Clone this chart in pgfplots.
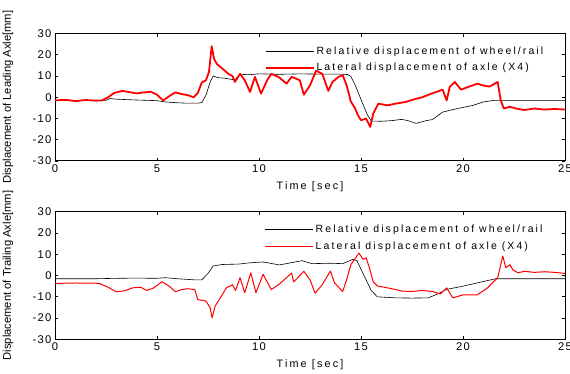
\documentclass[border=0pt]{standalone}
\usepackage{fontspec}
\setmainfont{Liberation Sans}
\newfontfamily\spf[LetterSpace=20]{Liberation Sans}
\newfontfamily\tkf[LetterSpace=12]{Liberation Sans}
\usepackage{pgfplots}
\pgfplotsset{compat=1.18}
\definecolor{myred}{RGB}{255,0,0}
\pgfplotsset{
  myax/.style={
    width=510bp, height=127.5bp, scale only axis,
    xmin=0, xmax=25, ymin=-30, ymax=30,
    xtick={0,5,...,25}, ytick={-30,-20,...,30},
    tick align=inside, major tick length=3bp,
    axis line style={line width=1pt},
    every tick/.style={black, line width=0.8pt},
    /pgf/number format/assume math mode=true,
    tick label style={font=\fontsize{11.2bp}{13bp}\tkf},
    label style={font=\fontsize{11.2bp}{13bp}\selectfont},
    xlabel={{\fontsize{10.8bp}{13bp}\spf Time [sec]}},
    xlabel style={at={(axis description cs:0.5,-0.2)}, anchor=center},
    ylabel style={at={(axis description cs:-0.092,0.5)}, anchor=center},
    legend style={draw=none, fill=none, at={(axis description cs:0.405,0.93)}, anchor=north west,
      font=\fontsize{10.5bp}{12bp}\spf, row sep=3.5bp},
    legend cell align=left,
    legend image code/.code={\draw[#1] (0bp,0bp) -- (48bp,0bp);},
  }
}
\begin{document}
\begin{tikzpicture}
\useasboundingbox (0bp,0bp) rectangle (570bp,374bp);
\begin{axis}[myax, at={(55bp,213bp)}, anchor=south west,
  ylabel={Displacement of Leading Axle[mm]}]
\addplot[black, line width=0.6pt] coordinates {
(0,-1.5) (1,-1.6) (2,-1.5) (2.5,-1.4) (2.7,-0.6) (3,-0.9) (4,-1.3) (5,-1.6) (5.4,-2.2) (6,-2.6) (6.5,-2.8) (7,-2.8) (7.2,-2.5) (7.4,1) (7.6,7) (7.75,10) (8,9.2) (8.3,9) (8.6,8.5) (8.8,8.2) (9.1,10.8) (9.5,10.6) (10,11) (11,10.8) (12,11) (13,10.9) (14,10.9) (14.35,10.7) (14.5,9.8) (14.7,6) (15.0,-1) (15.3,-8) (15.5,-11.2) (16,-11.3) (16.5,-11) (17,-10.4) (17.3,-11) (17.7,-12.3) (18.2,-11) (18.5,-10.5) (18.6,-9.8) (19,-7) (19.5,-5.8) (20,-4.8) (20.5,-3.8) (21,-2.2) (21.5,-1.5) (25,-1.5)
};
\addlegendentry{Relative displacement of wheel/rail}
\addplot[myred, line width=1.8pt, line join=round] coordinates {
(0,-1.5) (0.5,-1.2) (1,-1.8) (1.5,-1.3) (2,-1.6) (2.3,-1.5) (2.6,0) (2.9,2) (3.3,3) (3.6,2.5) (4,1.8) (4.3,2.2) (4.7,2.6) (5.0,1.2) (5.3,-1.5) (5.6,0.5) (5.9,2.3) (6.2,1.5) (6.5,1.0) (6.8,0) (7.0,2) (7.2,7) (7.4,8) (7.55,12) (7.68,24) (7.8,18) (7.95,15.5) (8.2,13.5) (8.5,11) (8.7,10) (8.82,7.2) (9.07,11) (9.3,8) (9.56,2.5) (9.8,9.6) (10.1,1.7) (10.4,8) (10.6,11) (10.95,9.6) (11.35,6.4) (11.6,9.6) (12.0,8) (12.2,1.2) (12.5,5.6) (12.8,12.5) (13.1,11) (13.4,3) (13.6,7.2) (13.9,9.6) (14.1,10.4) (14.3,5.5) (14.5,-2) (14.7,-5) (14.85,-8.5) (15.0,-10.8) (15.25,-10) (15.45,-14) (15.6,-7.7) (15.85,-3) (16.3,-3.8) (16.7,-3) (17.2,-2.2) (17.6,-1) (18,0) (18.4,1.5) (18.7,2.5) (19.0,3.6) (19.2,-1.5) (19.35,4.9) (19.6,7.2) (19.9,3.6) (20.3,5) (20.7,6.4) (21.0,5.5) (21.3,5) (21.7,7.2) (21.85,-1.5) (22.0,-5.3) (22.3,-4.5) (22.6,-5.3) (23,-6) (23.5,-5.3) (24,-5.8) (24.5,-5.5) (25,-5.8)
};
\addlegendentry{Lateral displacement of axle (X4)}
\end{axis}
\begin{axis}[myax, at={(55bp,34.7bp)}, anchor=south west,
  ylabel={Displacement of Trailing Axle[mm]}]
\addplot[black, line width=0.6pt] coordinates {
(0,-1.5) (2,-1.5) (3,-1.3) (4,-1.2) (5,-1.3) (5.4,-1) (6,-1.5) (6.8,-2) (7.2,-2) (7.5,1) (7.75,4.5) (8.2,5.2) (9,5.4) (9.56,6) (10.2,6.4) (11,5) (12.1,7) (12.6,5.6) (13.5,5.8) (14.1,5.6) (14.6,7.6) (14.8,7) (14.9,5) (15.2,-1) (15.5,-7) (15.8,-10) (16.7,-10.5) (17.5,-10.6) (18.3,-10.5) (18.8,-8.5) (19.2,-6.5) (20,-5) (21,-2.8) (21.6,-1.5) (25,-1.5)
};
\addlegendentry{Relative displacement of wheel/rail}
\addplot[myred, line width=1pt, line join=round] coordinates {
(0,-3.7) (1,-3.5) (2,-3.6) (2.2,-3.8) (2.6,-5.5) (3.0,-7.6) (3.4,-7.2) (3.8,-5.8) (4.2,-5.5) (4.5,-7) (4.8,-6) (5.25,-2.9) (5.6,-5) (5.9,-7.6) (6.2,-6.6) (6.5,-6.2) (6.85,-6.6) (7.0,-11.3) (7.4,-12) (7.6,-15) (7.7,-19.9) (7.85,-14.4) (8.1,-10.5) (8.4,-5.8) (8.7,-4.3) (8.85,-7) (9.07,-1) (9.3,-8.1) (9.6,1.3) (9.85,-8.1) (10.2,0.6) (10.6,-6.6) (11.0,-4) (11.6,1.2) (11.7,-3) (12.2,2) (12.5,-2) (12.75,-8.3) (13.1,-4.3) (13.5,2.1) (13.7,-3.4) (14.1,-7.6) (14.3,-1.8) (14.5,5.1) (14.9,10.6) (15.1,7.6) (15.25,8.3) (15.4,4) (15.6,-3) (15.8,-4.9) (16.3,-5.8) (16.7,-6.6) (17.0,-7.3) (17.5,-7.5) (18.0,-7) (18.5,-7.5) (18.9,-8.6) (19.2,-5.8) (19.5,-10.5) (20.0,-9.1) (20.7,-9.1) (21.2,-5.8) (21.7,-1) (21.95,9.2) (22.1,3.7) (22.3,5.1) (22.45,2.6) (22.7,1.3) (23.0,2) (23.5,1.5) (24,1.8) (24.5,1.5) (25,1)
};
\addlegendentry{Lateral displacement of axle (X4)}
\end{axis}
\end{tikzpicture}
\end{document}
